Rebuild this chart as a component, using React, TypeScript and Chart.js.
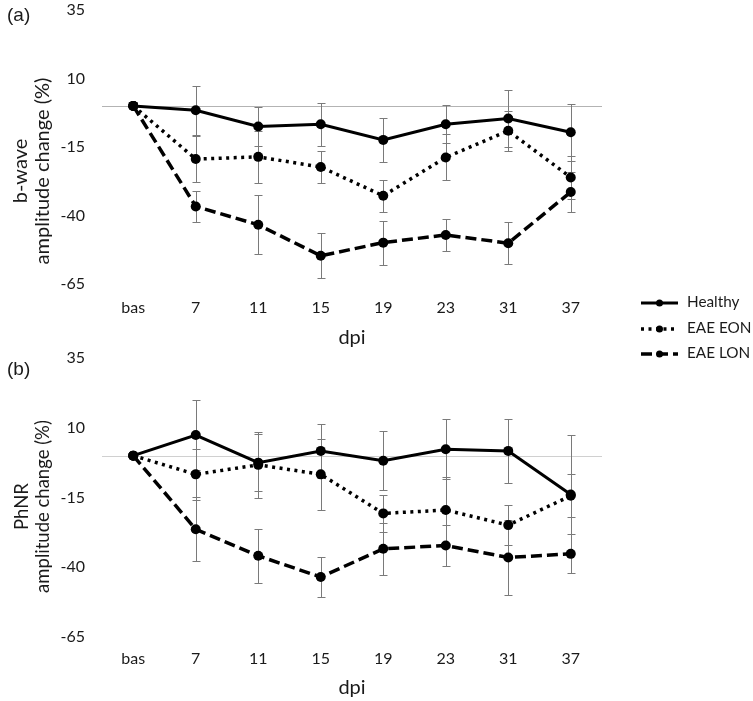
import React, { useEffect, useRef } from "react";
import { Chart, registerables } from "chart.js";

Chart.register(...registerables);

// ---------- data ----------
const CATEGORIES = ["bas", "7", "11", "15", "19", "23", "31", "37"];
const SERIES_NAMES = ["Healthy", "EAE EON", "EAE LON"];
const Y_TICKS = [-65, -40, -15, 10, 35];
const X_TITLE = "dpi";

// (a) b-wave amplitude change (%)
const BWAVE_HEALTHY = [0, -1.6, -7.5, -6.7, -12.4, -6.7, -4.6, -9.6];
const BWAVE_HEALTHY_ERR = [0, 9.0, 7.2, 7.8, 8.1, 7.0, 10.3, 10.4];
const BWAVE_EON = [0, -19.4, -18.6, -22.3, -32.8, -18.8, -9.1, -26.1];
const BWAVE_EON_ERR = [0, 8.3, 9.6, 5.7, 5.8, 8.4, 7.3, 7.9];
const BWAVE_LON = [0, -36.7, -43.4, -54.7, -49.9, -47.1, -50.1, -31.4];
const BWAVE_LON_ERR = [0, 5.6, 10.8, 8.2, 8.0, 5.8, 7.6, 7.3];

// (b) PhNR amplitude change (%)
const PHNR_HEALTHY = [0, 7.4, -2.5, 1.7, -1.8, 2.3, 1.7, -13.9];
const PHNR_HEALTHY_ERR = [0, 12.6, 10.2, 9.6, 10.5, 10.8, 11.6, 21.3];
const PHNR_EON = [0, -6.7, -3.3, -6.7, -20.7, -19.5, -24.9, -14.4];
const PHNR_EON_ERR = [0, 9.1, 11.9, 12.7, 6.6, 12.0, 7.2, 7.7];
const PHNR_LON = [0, -26.4, -35.9, -43.5, -33.4, -32.2, -36.5, -35.2];
const PHNR_LON_ERR = [0, 11.5, 9.6, 7.3, 9.3, 7.2, 13.6, 7.0];

const REFERENCE_VALUE = 0;

// ---------- styles ----------
const FONT = "Lato";
const TEXT_COLOR = "#1a1a1a";
const SERIES_STYLES = [
  { borderDash: [] as number[], borderWidth: 3 },
  { borderDash: [3, 4.5], borderWidth: 3.5 },
  { borderDash: [11, 5], borderWidth: 3.5 },
];

// ---------- plugins ----------
const zeroLinePlugin = {
  id: "zeroLine",
  beforeDatasetsDraw(chart: any, _a: any, opts: any) {
    const { ctx, chartArea } = chart;
    const y = Math.round(chart.scales.y.getPixelForValue(opts.value)) + 0.5;
    ctx.save();
    ctx.strokeStyle = opts.color;
    ctx.lineWidth = 1;
    ctx.beginPath();
    ctx.moveTo(chartArea.left, y);
    ctx.lineTo(chartArea.right, y);
    ctx.stroke();
    ctx.restore();
  },
};

const errorBarsPlugin = {
  id: "errorBars",
  beforeDatasetsDraw(chart: any, _a: any, opts: any) {
    const ctx = chart.ctx;
    const yScale = chart.scales.y;
    ctx.save();
    ctx.strokeStyle = opts.color;
    ctx.lineWidth = 1;
    chart.data.datasets.forEach((ds: any, di: number) => {
      const meta = chart.getDatasetMeta(di);
      const errs = ds.errors || [];
      meta.data.forEach((pt: any, i: number) => {
        const e = errs[i];
        if (!e) return;
        const v = ds.data[i];
        const yTop = Math.round(yScale.getPixelForValue(v + e)) + 0.5;
        const yBot = Math.round(yScale.getPixelForValue(v - e)) + 0.5;
        const x = Math.round(pt.x) + 0.5;
        ctx.beginPath();
        ctx.moveTo(x, yTop);
        ctx.lineTo(x, yBot);
        ctx.moveTo(x - opts.cap, yTop);
        ctx.lineTo(x + opts.cap, yTop);
        ctx.moveTo(x - opts.cap, yBot);
        ctx.lineTo(x + opts.cap, yBot);
        ctx.stroke();
      });
    });
    ctx.restore();
  },
};

const textPlugin = {
  id: "extraText",
  afterDraw(chart: any, _a: any, opts: any) {
    const ctx = chart.ctx;
    (opts.items || []).forEach((it: any) => {
      ctx.save();
      ctx.font = it.font;
      ctx.fillStyle = it.color || TEXT_COLOR;
      ctx.textAlign = it.align || "center";
      ctx.textBaseline = "middle";
      ctx.translate(it.x, it.y);
      if (it.rotate) ctx.rotate(it.rotate);
      ctx.fillText(it.text, 0, 0);
      ctx.restore();
    });
  },
};

const legendPlugin = {
  id: "customLegend",
  afterDraw(chart: any, _a: any, opts: any) {
    if (!opts.show) return;
    const ctx = chart.ctx;
    chart.data.datasets.forEach((ds: any, i: number) => {
      const y = opts.rows[i];
      ctx.save();
      ctx.strokeStyle = ds.borderColor;
      ctx.lineWidth = ds.borderWidth;
      ctx.setLineDash(ds.borderDash || []);
      ctx.beginPath();
      ctx.moveTo(opts.x0, y);
      ctx.lineTo(opts.x1, y);
      ctx.stroke();
      ctx.setLineDash([]);
      ctx.fillStyle = ds.pointBackgroundColor;
      ctx.beginPath();
      ctx.arc((opts.x0 + opts.x1) / 2, y, opts.markerRadius, 0, Math.PI * 2);
      ctx.fill();
      ctx.font = `15.3px ${FONT}`;
      ctx.fillStyle = TEXT_COLOR;
      ctx.textAlign = "left";
      ctx.textBaseline = "middle";
      ctx.fillText(ds.label, opts.textX, y - 1);
      ctx.restore();
    });
  },
};

function makeDatasets(values: number[][], errors: number[][]) {
  return values.map((vals, i) => ({
    label: SERIES_NAMES[i],
    data: vals,
    errors: errors[i],
    borderColor: "#000",
    backgroundColor: "#000",
    pointBackgroundColor: "#000",
    pointBorderWidth: 0,
    pointRadius: 5,
    borderWidth: SERIES_STYLES[i].borderWidth,
    borderDash: SERIES_STYLES[i].borderDash,
    tension: 0,
  }));
}

function makeConfig(p: any): any {
  return {
    type: "line",
    data: { labels: CATEGORIES, datasets: makeDatasets(p.values, p.errors) },
    plugins: [zeroLinePlugin, errorBarsPlugin, textPlugin, legendPlugin],
    options: {
      responsive: false,
      animation: false,
      devicePixelRatio: 1,
      layout: { autoPadding: false, padding: { left: 0, right: 151, top: p.padTop, bottom: 0 } },
      scales: {
        x: {
          offset: true,
          grid: { display: false, drawTicks: false },
          border: { display: false },
          ticks: { color: TEXT_COLOR, font: { family: FONT, size: 16 }, padding: p.xTickPad, maxRotation: 0 },
          title: {
            display: true,
            text: X_TITLE,
            color: TEXT_COLOR,
            font: { family: FONT, size: 20 },
            padding: { top: 0, bottom: p.xTitlePad },
          },
          afterFit: (s: any) => {
            s.height = p.xHeight;
            s.paddingLeft = 0;
            s.paddingRight = 0;
          },
        },
        y: {
          min: -65,
          max: 35,
          grid: { display: false, drawTicks: false },
          border: { display: false },
          afterBuildTicks: (s: any) => {
            s.ticks = Y_TICKS.map((v) => ({ value: v }));
          },
          ticks: { color: TEXT_COLOR, font: { family: FONT, size: 16 }, padding: 17 },
          afterFit: (s: any) => {
            s.width = 102;
            s.paddingTop = 0;
            s.paddingBottom = 0;
          },
        },
      },
      plugins: {
        legend: { display: false },
        tooltip: { enabled: false },
        zeroLine: { value: REFERENCE_VALUE, color: p.zeroColor },
        errorBars: { color: "#7a7a7a", cap: 4 },
        extraText: { items: p.texts },
        customLegend: { show: p.showLegend, x0: 641, x1: 678, textX: 687, markerRadius: 3.5, rows: [303, 329, 354] },
      },
    },
  };
}

export default function App() {
  const topRef = useRef<HTMLCanvasElement>(null);
  const botRef = useRef<HTMLCanvasElement>(null);

  useEffect(() => {
    const rot = -Math.PI / 2;
    const top = new Chart(
      topRef.current as HTMLCanvasElement,
      makeConfig({
        values: [BWAVE_HEALTHY, BWAVE_EON, BWAVE_LON],
        errors: [BWAVE_HEALTHY_ERR, BWAVE_EON_ERR, BWAVE_LON_ERR],
        padTop: 10,
        xHeight: 81,
        xTickPad: 14,
        xTitlePad: 15,
        zeroColor: "#b3b3b3",
        showLegend: true,
        texts: [
          { text: "(a)", x: 7, y: 16, font: '19px "Liberation Sans"', align: "left" },
          { text: "b-wave", x: 21, y: 171, font: `20px ${FONT}`, rotate: rot },
          { text: "amplitude change (%)", x: 43, y: 171, font: `20px ${FONT}`, rotate: rot },
        ],
      })
    );
    const bot = new Chart(
      botRef.current as HTMLCanvasElement,
      makeConfig({
        values: [PHNR_HEALTHY, PHNR_EON, PHNR_LON],
        errors: [PHNR_HEALTHY_ERR, PHNR_EON_ERR, PHNR_LON_ERR],
        padTop: 13,
        xHeight: 64,
        xTickPad: 12.5,
        xTitlePad: 1,
        zeroColor: "#d0d0d0",
        showLegend: false,
        texts: [
          { text: "(b)", x: 7, y: 25, font: '19px "Liberation Sans"', align: "left" },
          { text: "PhNR", x: 22, y: 161.5, font: `18.5px ${FONT}`, rotate: rot },
          { text: "amplitude change (%)", x: 43, y: 161.5, font: `18.5px ${FONT}`, rotate: rot },
        ],
      })
    );
    return () => {
      top.destroy();
      bot.destroy();
    };
  }, []);

  return (
    <div style={{ position: "fixed", left: 0, top: 0, width: 753, height: 701, background: "#fff", overflow: "hidden" }}>
      <canvas ref={topRef} width={753} height={365} style={{ position: "absolute", left: 0, top: 0 }} />
      <canvas ref={botRef} width={753} height={356} style={{ position: "absolute", left: 0, top: 345 }} />
    </div>
  );
}
